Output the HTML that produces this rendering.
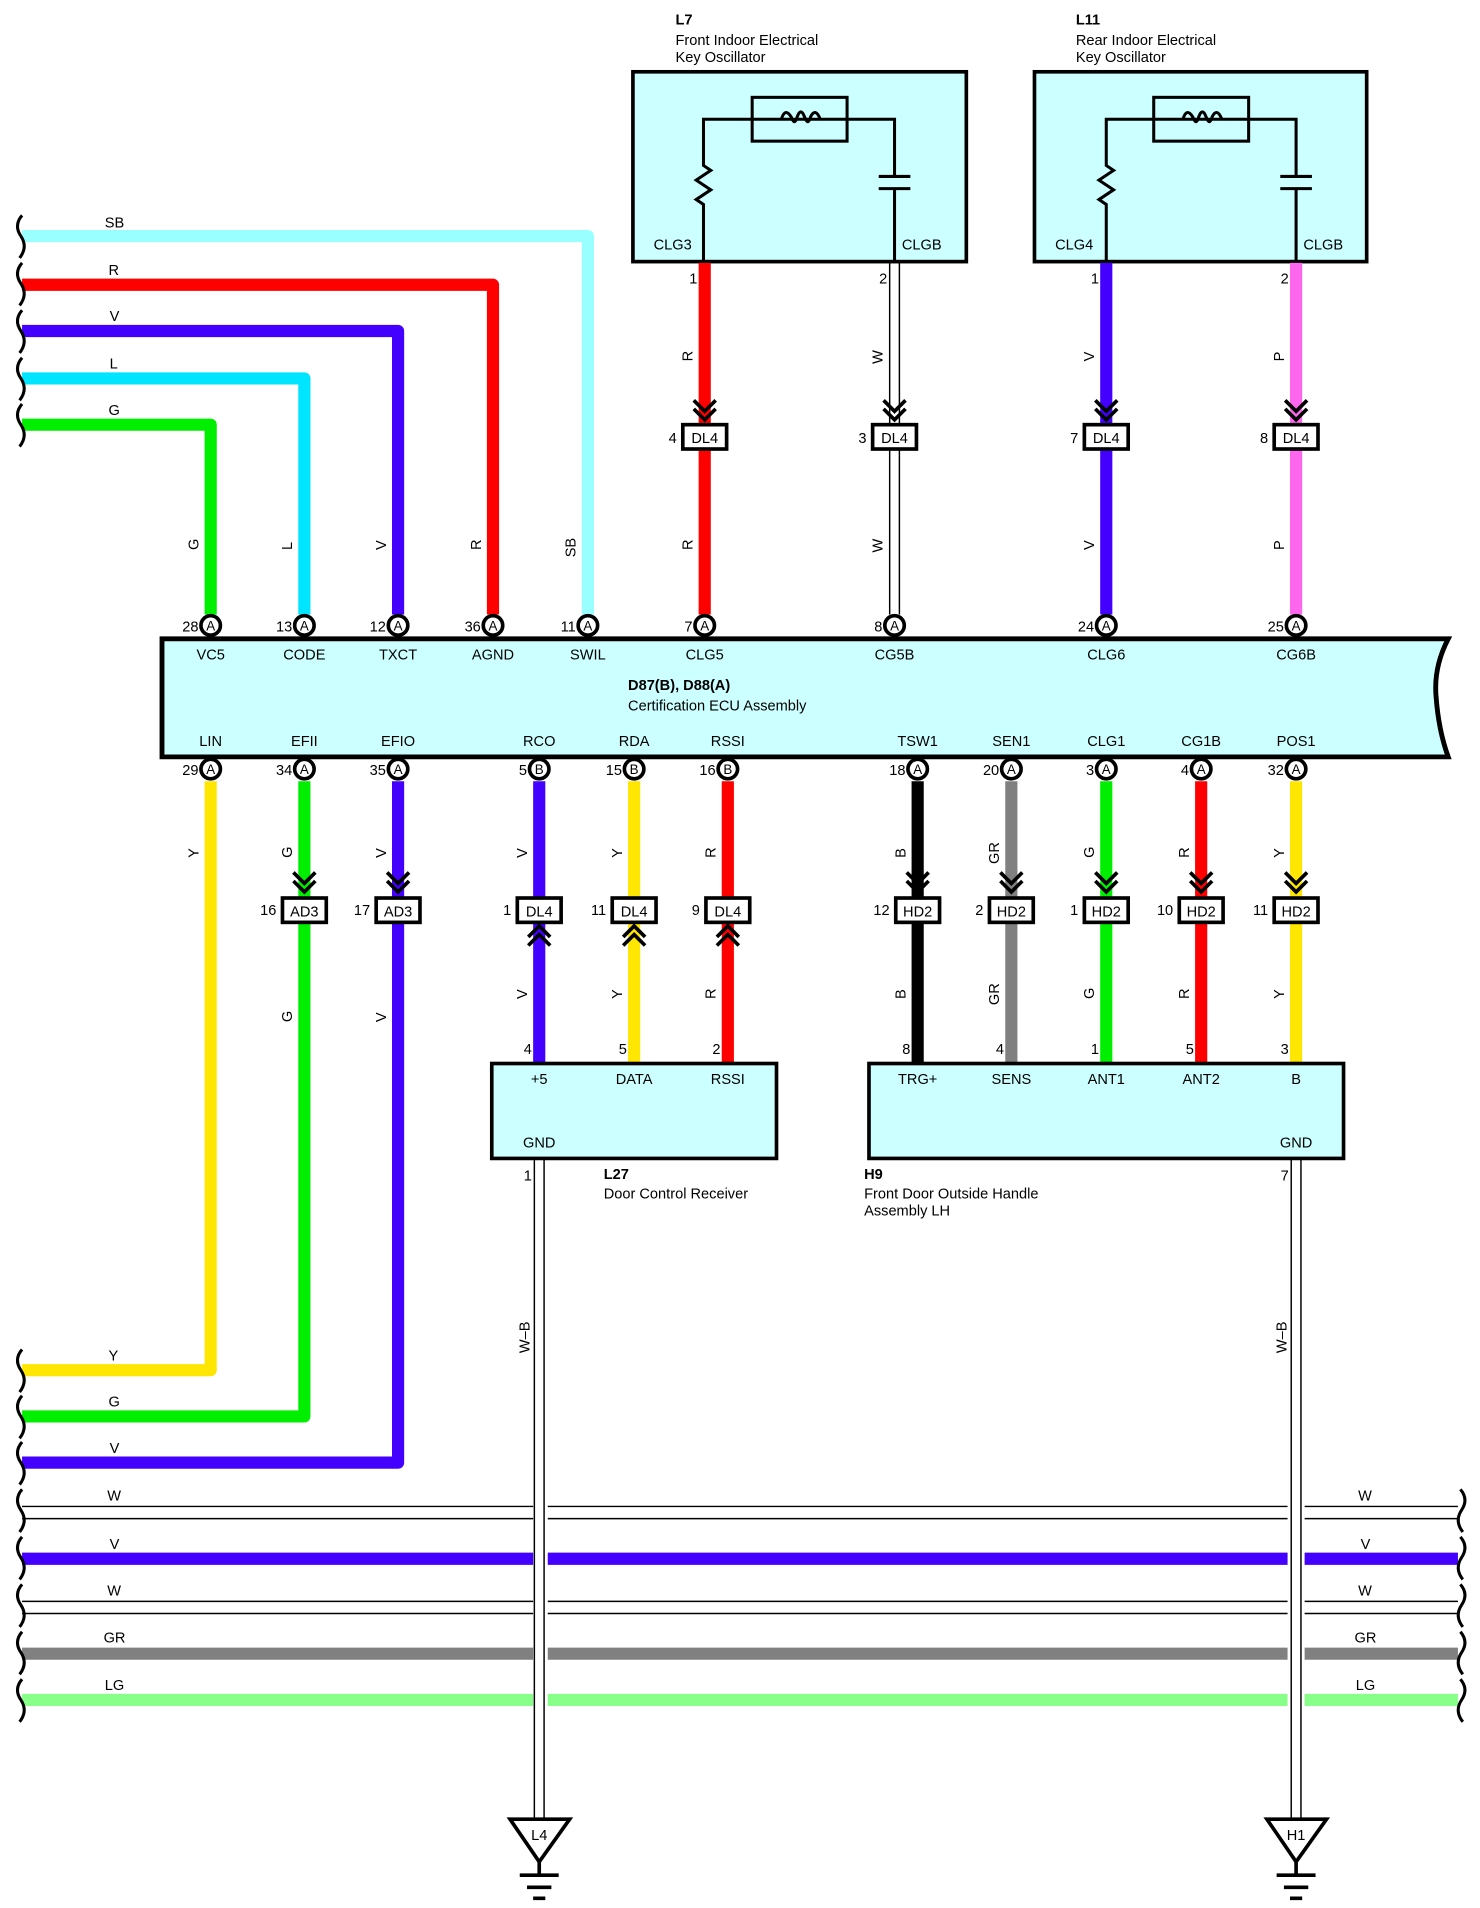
<!DOCTYPE html>
<html><head><meta charset="utf-8"><style>
html,body{margin:0;padding:0;background:#fff;}
svg{display:block;}
text{font-family:"Liberation Sans",sans-serif;font-size:12px;fill:#000;}
</style></head><body>
<svg width="1480" height="1908" viewBox="0 0 1216 1568" xmlns="http://www.w3.org/2000/svg">
<rect width="1216" height="1568" fill="#fff"/>

<!-- Oscillator boxes -->
<g stroke="#000" stroke-width="3" fill="#ccffff">
<rect x="520" y="59" width="274" height="156"/>
<rect x="850" y="59" width="273" height="156"/>
</g>
<g stroke="#000" stroke-width="2.5" fill="none">
<path d="M578,215 V168 l-6,-4 l12,-8 l-12,-8 l12,-8 l-6,-4 V98 H735 V145 M735,155 V215"/>
<path d="M722,145 h26 M722,155 h26"/>
<rect x="618" y="80" width="78" height="36"/>
<path d="M642,98 q3,-10 8,-2 q3,8 5,0 q3,-8 6,0 q3,8 5,0 q4,-8 8,2"/>
<path d="M909,215 V168 l-6,-4 l12,-8 l-12,-8 l12,-8 l-6,-4 V98 H1065 V145 M1065,155 V215"/>
<path d="M1052,145 h26 M1052,155 h26"/>
<rect x="948" y="80" width="78" height="36"/>
<path d="M972,98 q3,-10 8,-2 q3,8 5,0 q3,-8 6,0 q3,8 5,0 q4,-8 8,2"/>
</g>
<text x="555" y="20" font-weight="bold">L7</text>
<text x="555" y="37">Front Indoor Electrical</text>
<text x="555" y="51">Key Oscillator</text>
<text x="884" y="20" font-weight="bold">L11</text>
<text x="884" y="37">Rear Indoor Electrical</text>
<text x="884" y="51">Key Oscillator</text>
<text x="537" y="205">CLG3</text><text x="741" y="205">CLGB</text>
<text x="867" y="205">CLG4</text><text x="1071" y="205">CLGB</text>

<!-- Top-left wires -->
<g fill="none" stroke-width="10" stroke-linejoin="round">
<path d="M18,194 H483 V505" stroke="#99ffff"/>
<path d="M18,234 H405 V505" stroke="#ff0000"/>
<path d="M18,272 H327 V505" stroke="#4400ff"/>
<path d="M18,311 H250 V505" stroke="#00e5ff"/>
<path d="M18,349 H173 V505" stroke="#00ee00"/>
<!-- oscillator wires -->
<path d="M579,216 V505" stroke="#ff0000"/>
<path d="M909,216 V505" stroke="#4400ff"/>
<path d="M1065,216 V505" stroke="#ff66ee"/>
<!-- bottom wires -->
<path d="M173,642 V1126 H18" stroke="#ffe600"/>
<path d="M250,642 V1164 H18" stroke="#00ee00"/>
<path d="M327,642 V1202 H18" stroke="#4400ff"/>
<path d="M443,642 V874" stroke="#4400ff"/>
<path d="M521,642 V874" stroke="#ffe600"/>
<path d="M598,642 V874" stroke="#ff0000"/>
<path d="M754,642 V874" stroke="#000"/>
<path d="M831,642 V874" stroke="#808080"/>
<path d="M909,642 V874" stroke="#00ee00"/>
<path d="M987,642 V874" stroke="#ff0000"/>
<path d="M1065,642 V874" stroke="#ffe600"/>
</g>
<!-- white wire CG5B -->
<g stroke="#000" stroke-width="1.2">
<line x1="731" y1="216" x2="731" y2="505"/><line x1="739" y1="216" x2="739" y2="505"/>
</g>

<!-- bus lines -->
<g stroke-width="10">
<line x1="18" y1="1281" x2="438" y2="1281" stroke="#4400ff"/>
<line x1="450" y1="1281" x2="1058" y2="1281" stroke="#4400ff"/>
<line x1="1072" y1="1281" x2="1198" y2="1281" stroke="#4400ff"/>
<line x1="18" y1="1359" x2="438" y2="1359" stroke="#808080"/>
<line x1="450" y1="1359" x2="1058" y2="1359" stroke="#808080"/>
<line x1="1072" y1="1359" x2="1198" y2="1359" stroke="#808080"/>
<line x1="18" y1="1397" x2="438" y2="1397" stroke="#88ff88"/>
<line x1="450" y1="1397" x2="1058" y2="1397" stroke="#88ff88"/>
<line x1="1072" y1="1397" x2="1198" y2="1397" stroke="#88ff88"/>
</g>
<g stroke="#000" stroke-width="1.2">
<path d="M18,1238 H438 M450,1238 H1058 M1072,1238 H1198 M18,1248 H438 M450,1248 H1058 M1072,1248 H1198"/>
<path d="M18,1316 H438 M450,1316 H1058 M1072,1316 H1198 M18,1326 H438 M450,1326 H1058 M1072,1326 H1198"/>
<!-- ground wires -->
<path d="M439,952 V1495 M447,952 V1495 M1061,952 V1495 M1069,952 V1495"/>
</g>

<!-- wavy braces -->
<g fill="none" stroke="#000" stroke-width="2.5">
<path d="M18,177 q-7,8 -1,17 q6,9 -1,18"/>
<path d="M18,216 q-7,8 -1,17 q6,9 -1,18"/>
<path d="M18,255 q-7,8 -1,17 q6,9 -1,18"/>
<path d="M18,294 q-7,8 -1,17 q6,9 -1,18"/>
<path d="M18,332 q-7,8 -1,17 q6,9 -1,18"/>
<path d="M18,1109 q-7,8 -1,17 q6,9 -1,18"/>
<path d="M18,1147 q-7,8 -1,17 q6,9 -1,18"/>
<path d="M18,1185 q-7,8 -1,17 q6,9 -1,18"/>
<path d="M18,1224 q-7,8 -1,17 q6,9 -1,18"/>
<path d="M18,1263 q-7,8 -1,17 q6,9 -1,18"/>
<path d="M18,1302 q-7,8 -1,17 q6,9 -1,18"/>
<path d="M18,1341 q-7,8 -1,17 q6,9 -1,18"/>
<path d="M18,1380 q-7,8 -1,17 q6,9 -1,18"/>
<path d="M1200,1224 q7,8 1,17 q-6,9 1,18"/>
<path d="M1200,1263 q7,8 1,17 q-6,9 1,18"/>
<path d="M1200,1302 q7,8 1,17 q-6,9 1,18"/>
<path d="M1200,1341 q7,8 1,17 q-6,9 1,18"/>
<path d="M1200,1380 q7,8 1,17 q-6,9 1,18"/>
</g>
<!-- horizontal wire labels -->
<g>
<text x="86" y="187">SB</text><text x="89" y="226">R</text><text x="90" y="264">V</text><text x="90" y="303">L</text><text x="89" y="341">G</text>
<text x="89" y="1118">Y</text><text x="89" y="1156">G</text><text x="90" y="1194">V</text>
<text x="88" y="1233">W</text><text x="90" y="1273">V</text><text x="88" y="1311">W</text><text x="85" y="1350">GR</text><text x="86" y="1389">LG</text>
<text x="1116" y="1233">W</text><text x="1118" y="1273">V</text><text x="1116" y="1311">W</text><text x="1113" y="1350">GR</text><text x="1114" y="1389">LG</text>
</g>

<!-- ECU box -->
<path d="M133,525 H1190 Q1178,548 1180,572 Q1182,600 1190,622 H133 Z" fill="#ccffff" stroke="#000" stroke-width="4"/>
<text x="516" y="567" font-weight="bold">D87(B), D88(A)</text>
<text x="516" y="584">Certification ECU Assembly</text>
<g text-anchor="middle">
<text x="173" y="542">VC5</text><text x="250" y="542">CODE</text><text x="327" y="542">TXCT</text><text x="405" y="542">AGND</text><text x="483" y="542">SWIL</text><text x="579" y="542">CLG5</text><text x="735" y="542">CG5B</text><text x="909" y="542">CLG6</text><text x="1065" y="542">CG6B</text>
<text x="173" y="613">LIN</text><text x="250" y="613">EFII</text><text x="327" y="613">EFIO</text><text x="443" y="613">RCO</text><text x="521" y="613">RDA</text><text x="598" y="613">RSSI</text><text x="754" y="613">TSW1</text><text x="831" y="613">SEN1</text><text x="909" y="613">CLG1</text><text x="987" y="613">CG1B</text><text x="1065" y="613">POS1</text>
</g>

<!-- pin circles -->
<g stroke="#000" stroke-width="3" fill="#fff">
<circle cx="173" cy="514" r="8"/><circle cx="250" cy="514" r="8"/><circle cx="327" cy="514" r="8"/><circle cx="405" cy="514" r="8"/><circle cx="483" cy="514" r="8"/><circle cx="579" cy="514" r="8"/><circle cx="735" cy="514" r="8"/><circle cx="909" cy="514" r="8"/><circle cx="1065" cy="514" r="8"/>
<circle cx="173" cy="632" r="8"/><circle cx="250" cy="632" r="8"/><circle cx="327" cy="632" r="8"/><circle cx="443" cy="632" r="8"/><circle cx="521" cy="632" r="8"/><circle cx="598" cy="632" r="8"/><circle cx="754" cy="632" r="8"/><circle cx="831" cy="632" r="8"/><circle cx="909" cy="632" r="8"/><circle cx="987" cy="632" r="8"/><circle cx="1065" cy="632" r="8"/>
</g>
<g text-anchor="middle" font-size="11">
<text x="173" y="518" style="font-size:11px">A</text><text x="250" y="518" style="font-size:11px">A</text><text x="327" y="518" style="font-size:11px">A</text><text x="405" y="518" style="font-size:11px">A</text><text x="483" y="518" style="font-size:11px">A</text><text x="579" y="518" style="font-size:11px">A</text><text x="735" y="518" style="font-size:11px">A</text><text x="909" y="518" style="font-size:11px">A</text><text x="1065" y="518" style="font-size:11px">A</text>
<text x="173" y="636" style="font-size:11px">A</text><text x="250" y="636" style="font-size:11px">A</text><text x="327" y="636" style="font-size:11px">A</text><text x="443" y="636" style="font-size:11px">B</text><text x="521" y="636" style="font-size:11px">B</text><text x="598" y="636" style="font-size:11px">B</text><text x="754" y="636" style="font-size:11px">A</text><text x="831" y="636" style="font-size:11px">A</text><text x="909" y="636" style="font-size:11px">A</text><text x="987" y="636" style="font-size:11px">A</text><text x="1065" y="636" style="font-size:11px">A</text>
</g>
<g text-anchor="end">
<text x="163" y="519">28</text><text x="240" y="519">13</text><text x="317" y="519">12</text><text x="395" y="519">36</text><text x="473" y="519">11</text><text x="569" y="519">7</text><text x="725" y="519">8</text><text x="899" y="519">24</text><text x="1055" y="519">25</text>
<text x="163" y="637">29</text><text x="240" y="637">34</text><text x="317" y="637">35</text><text x="433" y="637">5</text><text x="511" y="637">15</text><text x="588" y="637">16</text><text x="744" y="637">18</text><text x="821" y="637">20</text><text x="899" y="637">3</text><text x="977" y="637">4</text><text x="1055" y="637">32</text>
<text x="573" y="233">1</text><text x="729" y="233">2</text><text x="903" y="233">1</text><text x="1059" y="233">2</text>
<text x="437" y="866">4</text><text x="515" y="866">5</text><text x="592" y="866">2</text>
<text x="748" y="866">8</text><text x="825" y="866">4</text><text x="903" y="866">1</text><text x="981" y="866">5</text><text x="1059" y="866">3</text>
<text x="437" y="970">1</text><text x="1059" y="970">7</text>
<!-- junction numbers -->
<text x="556" y="364">4</text><text x="712" y="364">3</text><text x="886" y="364">7</text><text x="1042" y="364">8</text>
<text x="227" y="752">16</text><text x="304" y="752">17</text><text x="420" y="752">1</text><text x="498" y="752">11</text><text x="575" y="752">9</text>
<text x="731" y="752">12</text><text x="808" y="752">2</text><text x="886" y="752">1</text><text x="964" y="752">10</text><text x="1042" y="752">11</text>
</g>

<!-- chevrons -->
<g fill="none" stroke="#000" stroke-width="3">
<path d="M570,329 l9,9 l9,-9 M570,336 l9,9 l9,-9"/>
<path d="M726,329 l9,9 l9,-9 M726,336 l9,9 l9,-9"/>
<path d="M900,329 l9,9 l9,-9 M900,336 l9,9 l9,-9"/>
<path d="M1056,329 l9,9 l9,-9 M1056,336 l9,9 l9,-9"/>
<path d="M241,717 l9,9 l9,-9 M241,724 l9,9 l9,-9"/>
<path d="M318,717 l9,9 l9,-9 M318,724 l9,9 l9,-9"/>
<path d="M745,717 l9,9 l9,-9 M745,724 l9,9 l9,-9"/>
<path d="M822,717 l9,9 l9,-9 M822,724 l9,9 l9,-9"/>
<path d="M900,717 l9,9 l9,-9 M900,724 l9,9 l9,-9"/>
<path d="M978,717 l9,9 l9,-9 M978,724 l9,9 l9,-9"/>
<path d="M1056,717 l9,9 l9,-9 M1056,724 l9,9 l9,-9"/>
<path d="M434,770 l9,-9 l9,9 M434,777 l9,-9 l9,9"/>
<path d="M512,770 l9,-9 l9,9 M512,777 l9,-9 l9,9"/>
<path d="M589,770 l9,-9 l9,9 M589,777 l9,-9 l9,9"/>
</g>
<!-- junction boxes -->
<g stroke="#000" stroke-width="3" fill="#fff">
<rect x="561" y="349" width="36" height="20"/><rect x="717" y="349" width="36" height="20"/><rect x="891" y="349" width="36" height="20"/><rect x="1047" y="349" width="36" height="20"/>
<rect x="232" y="738" width="36" height="20"/><rect x="309" y="738" width="36" height="20"/>
<rect x="425" y="738" width="36" height="20"/><rect x="503" y="738" width="36" height="20"/><rect x="580" y="738" width="36" height="20"/>
<rect x="736" y="738" width="36" height="20"/><rect x="813" y="738" width="36" height="20"/><rect x="891" y="738" width="36" height="20"/><rect x="969" y="738" width="36" height="20"/><rect x="1047" y="738" width="36" height="20"/>
</g>
<g text-anchor="middle">
<text x="579" y="364">DL4</text><text x="735" y="364">DL4</text><text x="909" y="364">DL4</text><text x="1065" y="364">DL4</text>
<text x="250" y="753">AD3</text><text x="327" y="753">AD3</text>
<text x="443" y="753">DL4</text><text x="521" y="753">DL4</text><text x="598" y="753">DL4</text>
<text x="754" y="753">HD2</text><text x="831" y="753">HD2</text><text x="909" y="753">HD2</text><text x="987" y="753">HD2</text><text x="1065" y="753">HD2</text>
</g>

<!-- vertical wire labels -->
<g>
<text transform="translate(163,452) rotate(-90)">G</text>
<text transform="translate(240,452) rotate(-90)">L</text>
<text transform="translate(317,452) rotate(-90)">V</text>
<text transform="translate(395,452) rotate(-90)">R</text>
<text transform="translate(473,458) rotate(-90)">SB</text>
<text transform="translate(569,452) rotate(-90)">R</text>
<text transform="translate(569,297) rotate(-90)">R</text>
<text transform="translate(725,454) rotate(-90)">W</text>
<text transform="translate(725,299) rotate(-90)">W</text>
<text transform="translate(899,452) rotate(-90)">V</text>
<text transform="translate(899,297) rotate(-90)">V</text>
<text transform="translate(1055,452) rotate(-90)">P</text>
<text transform="translate(1055,297) rotate(-90)">P</text>
<text transform="translate(163,705) rotate(-90)">Y</text>
<text transform="translate(240,705) rotate(-90)">G</text>
<text transform="translate(317,705) rotate(-90)">V</text>
<text transform="translate(433,705) rotate(-90)">V</text>
<text transform="translate(511,705) rotate(-90)">Y</text>
<text transform="translate(588,705) rotate(-90)">R</text>
<text transform="translate(744,705) rotate(-90)">B</text>
<text transform="translate(821,710) rotate(-90)">GR</text>
<text transform="translate(899,705) rotate(-90)">G</text>
<text transform="translate(977,705) rotate(-90)">R</text>
<text transform="translate(1055,705) rotate(-90)">Y</text>
<text transform="translate(240,840) rotate(-90)">G</text>
<text transform="translate(317,840) rotate(-90)">V</text>
<text transform="translate(433,821) rotate(-90)">V</text>
<text transform="translate(511,821) rotate(-90)">Y</text>
<text transform="translate(588,821) rotate(-90)">R</text>
<text transform="translate(744,821) rotate(-90)">B</text>
<text transform="translate(821,826) rotate(-90)">GR</text>
<text transform="translate(899,821) rotate(-90)">G</text>
<text transform="translate(977,821) rotate(-90)">R</text>
<text transform="translate(1055,821) rotate(-90)">Y</text>
<text transform="translate(435,1112) rotate(-90)">W–B</text>
<text transform="translate(1057,1112) rotate(-90)">W–B</text>
</g>

<!-- L27 / H9 boxes -->
<g stroke="#000" stroke-width="3" fill="#ccffff">
<rect x="404" y="874" width="234" height="78"/>
<rect x="714" y="874" width="390" height="78"/>
</g>
<g text-anchor="middle">
<text x="443" y="891">+5</text><text x="521" y="891">DATA</text><text x="598" y="891">RSSI</text><text x="443" y="943">GND</text>
<text x="754" y="891">TRG+</text><text x="831" y="891">SENS</text><text x="909" y="891">ANT1</text><text x="987" y="891">ANT2</text><text x="1065" y="891">B</text><text x="1065" y="943">GND</text>
</g>
<text x="496" y="969" font-weight="bold">L27</text>
<text x="496" y="985">Door Control Receiver</text>
<text x="710" y="969" font-weight="bold">H9</text>
<text x="710" y="985">Front Door Outside Handle</text>
<text x="710" y="999">Assembly LH</text>

<!-- grounds -->
<g stroke="#000" stroke-width="3" fill="#fff">
<path d="M419,1495 H468 L443,1530 Z"/>
<path d="M1041,1495 H1090 L1065,1530 Z"/>
<path d="M443,1530 V1541 M427,1541 H459 M433,1551 H453 M438,1560 H448"/>
<path d="M1065,1530 V1541 M1049,1541 H1081 M1055,1551 H1075 M1060,1560 H1070"/>
</g>
<text x="443" y="1512" text-anchor="middle">L4</text>
<text x="1065" y="1512" text-anchor="middle">H1</text>
</svg>
</body></html>
